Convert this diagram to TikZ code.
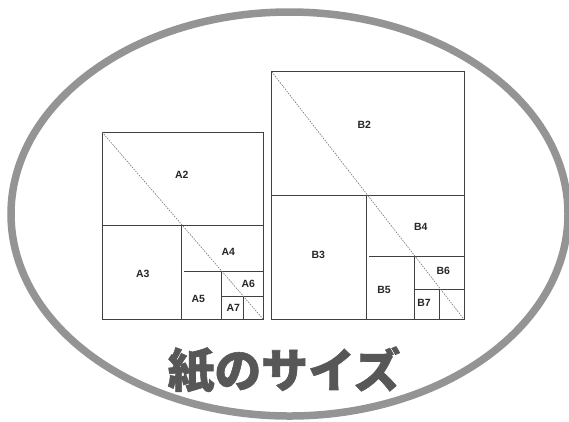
\documentclass[tikz,border=0pt]{standalone}
\usepackage{fontspec}
\setmainfont{Liberation Sans}
\newfontfamily\cjk{Noto Sans CJK JP}[BoldFeatures={FakeBold=1.2}]
\begin{document}
\begin{tikzpicture}[x=1bp,y=-1bp,
  frame/.style={draw=black!75,line width=0.9bp},
  diag/.style={draw=black!55,line width=0.6bp,dash pattern=on 1.5bp off 1.2bp},
  lab/.style={font=\fontsize{10.5}{11}\selectfont\bfseries,text=black!85,inner sep=0pt}]
\useasboundingbox (0,0) rectangle (569,421);
\fill[white] (0,0) rectangle (569,421);
% ellipse
\draw[draw=black!42,line width=7.5bp] (289.5,214) ellipse [x radius=278.5, y radius=202];
% A sheet
\draw[frame] (102,132) rectangle (263,319);
\draw[frame] (102,225.3) -- (263,225.3);
\draw[frame] (181.3,225.3) -- (181.3,319);
\draw[frame] (183.5,271) -- (263,271);
\draw[frame] (221.7,271) -- (221.7,319);
\draw[frame] (221.7,296.7) -- (263,296.7);
\draw[frame] (243.3,296.7) -- (243.3,319);
\draw[diag] (102,132) -- (263,319);
\node[lab] (a2) at (181.7,175) {A2};
\node[lab] (a3) at (142.7,274) {A3};
\node[lab] (a4) at (228.3,251.7) {A4};
\node[lab] (a5) at (198.3,299) {A5};
\node[lab] (a6) at (248.3,284) {A6};
\node[lab] (a7) at (233.3,308.3) {A7};
% B sheet
\draw[frame] (271.7,71.7) rectangle (464,319.3);
\draw[frame] (271.7,195.3) -- (464,195.3);
\draw[frame] (366.7,195.3) -- (366.7,319.3);
\draw[frame] (369,256) -- (464,256);
\draw[frame] (414,256) -- (414,319.3);
\draw[frame] (414,289.3) -- (464,289.3);
\draw[frame] (439.3,289.3) -- (439.3,319.3);
\draw[diag] (271.7,71.7) -- (464,319.3);
\node[lab] (b2) at (364.3,125) {B2};
\node[lab] (b3) at (318.3,255) {B3};
\node[lab] (b4) at (420.7,226.7) {B4};
\node[lab] (b5) at (384,290) {B5};
\node[lab] (b6) at (443.3,270.7) {B6};
\node[lab] (b7) at (424,303.3) {B7};
% title
\node[inner sep=0pt,text=black!66] (title) at (284,370) {\cjk\bfseries\fontsize{47}{50}\selectfont 紙のサイズ};
\end{tikzpicture}
\end{document}
